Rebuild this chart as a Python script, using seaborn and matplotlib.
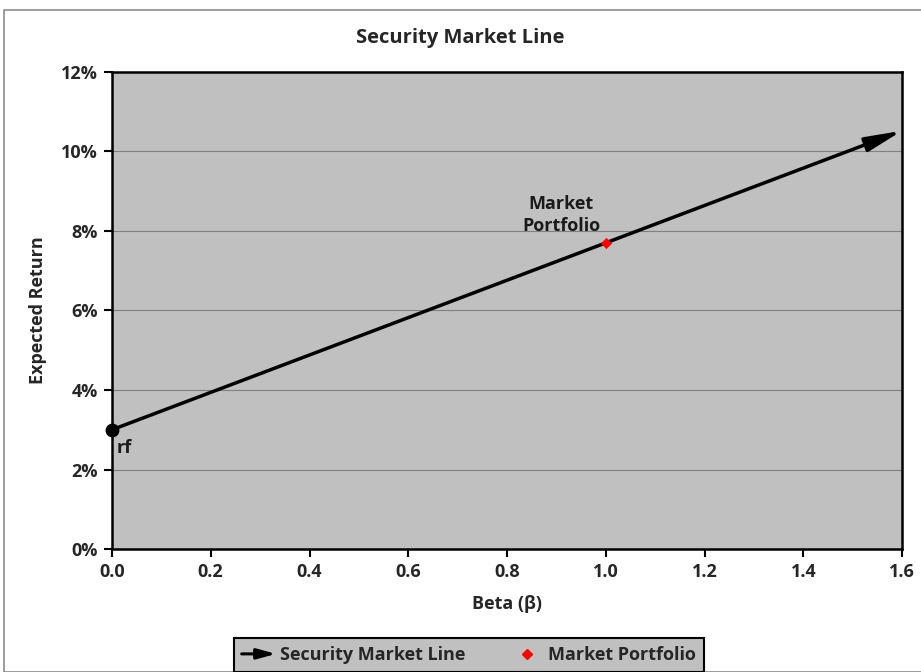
import matplotlib
matplotlib.use("Agg")
import matplotlib.pyplot as plt
import matplotlib.patches as mpatches
from matplotlib.legend_handler import HandlerPatch
from matplotlib.ticker import PercentFormatter
import seaborn as sns
import pandas as pd

# SML endpoints and market portfolio
sml_beta = [0.0, 1.6]
sml_return = [0.03, 0.1052]
rf_beta = [0.0]
rf_return = [0.03]
mkt_beta = [1.0]
mkt_return = [0.077]

x_ticks = [0.0, 0.2, 0.4, 0.6, 0.8, 1.0, 1.2, 1.4, 1.6]
y_ticks = [0.0, 0.02, 0.04, 0.06, 0.08, 0.10, 0.12]

sml = pd.DataFrame({"beta": sml_beta, "ret": sml_return})
mkt = pd.DataFrame({"beta": mkt_beta, "ret": mkt_return})

sns.set_theme(style="white")
plt.rcParams['font.family'] = ['Open Sans', 'DejaVu Sans']
plt.rcParams['font.weight'] = 'bold'

fig = plt.figure(figsize=(9.21, 6.72), dpi=100)
ax = fig.add_axes([0.1216, 0.183, 0.8578, 0.710])
ax.set_facecolor("#c0c0c0")

# chart area border
fig.patches.append(mpatches.Rectangle((4 / 921, 0), 1.2, 1 - 10 / 672, transform=fig.transFigure,
                                      fill=False, edgecolor="#8c8c8c", linewidth=1.2))

for y in y_ticks[1:-1]:
    ax.axhline(y, color="#808080", linewidth=0.8, zorder=1)

ax.annotate("", xy=(sml_beta[1], sml_return[1]), xytext=(sml_beta[0], sml_return[0]),
            arrowprops=dict(arrowstyle="-|>,head_length=1.1,head_width=0.22", color="black", lw=2.5,
                            mutation_scale=20, shrinkA=0, shrinkB=0), zorder=3, annotation_clip=False)
ax.scatter(rf_beta, rf_return, s=80, color="black", zorder=4, clip_on=False)
sns.scatterplot(data=mkt, x="beta", y="ret", marker="D", s=28, color="red",
                edgecolor="red", ax=ax, zorder=5)

ax.text(0.01, 0.0255, "rf", fontsize=13, fontweight="bold", color="#1a1a1a", va="center")
ax.text(0.91, 0.084, "Market\nPortfolio", fontsize=13, fontweight="bold", color="#1a1a1a",
        ha="center", va="center", linespacing=1.25)

ax.set_xlim(0, 1.6)
ax.set_ylim(0, 0.12)
ax.set_xticks(x_ticks)
ax.set_yticks(y_ticks)
ax.set_xticklabels([f"{v:.1f}" for v in x_ticks])
ax.yaxis.set_major_formatter(PercentFormatter(1.0, decimals=0))
ax.tick_params(axis="both", direction="out", length=6, width=1.5, color="black",
               labelsize=13, bottom=True, left=True, pad=4)
for lab in ax.get_xticklabels() + ax.get_yticklabels():
    lab.set_fontweight("bold")
for s in ax.spines.values():
    s.set_color("black")
    s.set_linewidth(1.8)

ax.set_xlabel("Beta (β)", fontsize=13, fontweight="bold", labelpad=10)
ax.set_ylabel("Expected Return", fontsize=13, fontweight="bold", labelpad=10)
fig.suptitle("Security Market Line", fontsize=14.5, fontweight="bold", y=0.958)


class ArrowHandler(HandlerPatch):
    def create_artists(self, legend, orig_handle, xdescent, ydescent, width, height, fontsize, trans):
        p = mpatches.FancyArrowPatch((-xdescent, height / 2 - ydescent), (width - xdescent, height / 2 - ydescent),
                                     arrowstyle="-|>,head_length=0.8,head_width=0.22", mutation_scale=14,
                                     lw=2.2, color="black", shrinkA=0, shrinkB=0)
        p.set_transform(trans)
        return [p]


arrow_h = mpatches.FancyArrowPatch((0, 0), (1, 0), arrowstyle="-|>")
diamond_h = plt.Line2D([], [], marker="D", color="red", linestyle="none", markersize=5)
leg = fig.legend([arrow_h, diamond_h], ["Security Market Line", "Market Portfolio"],
                 handler_map={mpatches.FancyArrowPatch: ArrowHandler()},
                 loc="center", bbox_to_anchor=(0.509, 0.025), ncol=2, fontsize=13,
                 frameon=True, fancybox=False, facecolor="#c0c0c0", edgecolor="black",
                 handlelength=1.9, handletextpad=0.2, columnspacing=2.5, borderpad=0.45,
                 borderaxespad=0, framealpha=1)
leg.get_frame().set_linewidth(1.5)
for t in leg.get_texts():
    t.set_fontweight("bold")

fig.savefig("out.png", dpi=100)
